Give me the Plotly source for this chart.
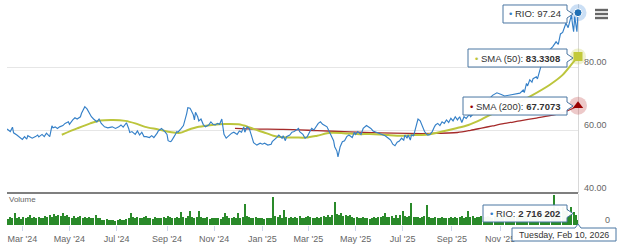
import pandas as pd
import plotly.graph_objects as go

# ---------------- data ----------------
start_date, end_date = "2024-02-12", "2026-02-10"

tick_dates = ["2024-03-01", "2024-05-01", "2024-07-01", "2024-09-03", "2024-11-01",
              "2025-01-02", "2025-03-03", "2025-05-01", "2025-07-01", "2025-09-02", "2025-11-03"]
tick_labels = ["Mar '24", "May '24", "Jul '24", "Sep '24", "Nov '24",
               "Jan '25", "Mar '25", "May '25", "Jul '25", "Sep '25", "Nov '25"]
price_grid = [60, 80, 100]
price_axis_labels = [40, 60, 80]

# trading-day offsets from start_date and RIO closing prices
price_day = [0, 3, 5, 6, 9, 12, 14, 16, 18, 19,
             23, 26, 28, 29, 32, 34, 36, 39, 41, 42,
             44, 46, 48, 51, 53, 56, 57, 60, 62, 64,
             67, 68, 70, 71, 73, 75, 77, 79, 82, 84,
             86, 89, 92, 96, 99, 102, 104, 106, 109, 111,
             112, 114, 117, 119, 121, 123, 125, 127, 130, 132,
             134, 137, 138, 141, 143, 144, 146, 147, 149, 150,
             153, 155, 156, 158, 159, 161, 162, 164, 165, 167,
             168, 170, 171, 172, 174, 175, 177, 179, 181, 184,
             186, 188, 190, 192, 194, 196, 197, 198, 200, 203,
             205, 207, 210, 212, 214, 216, 217, 219, 221, 223,
             225, 228, 231, 233, 235, 238, 241, 242, 245, 246,
             248, 251, 252, 254, 255, 258, 260, 262, 264, 266,
             267, 270, 272, 274, 276, 278, 280, 282, 284, 286,
             288, 290, 292, 294, 296, 298, 299, 301, 302, 303,
             304, 306, 308, 310, 312, 315, 317, 318, 320, 323,
             325, 328, 330, 332, 334, 337, 339, 342, 345, 348,
             350, 352, 354, 356, 358, 360, 362, 363, 365, 366,
             368, 369, 371, 372, 374, 375, 377, 378, 380, 381,
             383, 384, 386, 388, 390, 391, 393, 395, 397, 399,
             401, 403, 405, 407, 409, 411, 413, 415, 417, 419,
             422, 423, 428, 433, 439, 443, 447, 451, 454, 459,
             463, 468, 471, 472, 474, 475, 477, 479, 480, 483,
             484, 486, 488, 489, 492, 495, 498, 501, 503, 505,
             507, 510, 512, 514, 515, 516, 517, 518, 519, 520,
             521]
price_val = [60.3, 59.5, 60.9, 59.1, 58.4, 57.6, 57.0, 57.9, 57.1, 58.2,
             57.4, 57.9, 58.4, 57.8, 58.6, 57.9, 59.0, 57.9, 61.3, 60.7,
             61.0, 60.5, 61.0, 61.4, 62.1, 62.6, 61.8, 63.2, 63.9, 63.5,
             64.2, 65.3, 66.9, 67.4, 66.7, 65.3, 64.2, 63.5, 62.6, 63.5,
             62.1, 61.0, 60.7, 61.0, 60.5, 61.0, 61.6, 60.9, 62.3, 60.5,
             59.2, 59.5, 58.6, 59.7, 58.4, 59.3, 57.9, 57.9, 57.6, 58.2,
             57.6, 59.0, 59.7, 60.5, 60.0, 59.5, 58.6, 56.6, 56.3, 56.5,
             58.2, 59.5, 59.3, 60.0, 60.5, 61.4, 62.6, 65.3, 67.1, 66.9,
             66.3, 64.8, 63.2, 65.6, 64.2, 62.9, 63.5, 61.8, 61.0, 61.6,
             62.6, 61.8, 61.6, 62.1, 61.8, 63.5, 61.0, 58.6, 57.4, 58.4,
             59.0, 59.3, 58.6, 59.7, 59.3, 61.0, 59.3, 61.0, 60.5, 58.3,
             56.0, 55.2, 55.8, 55.5, 55.8, 55.2, 55.5, 56.3, 57.1, 57.6,
             58.4, 57.4, 58.2, 56.6, 57.9, 58.4, 59.3, 59.5, 60.0, 60.5,
             59.5, 58.6, 57.4, 57.9, 59.3, 60.5, 60.0, 61.0, 62.1, 62.6,
             61.8, 61.4, 61.0, 59.5, 57.9, 56.6, 54.7, 53.3, 51.5, 53.7,
             54.7, 56.3, 56.6, 57.9, 58.4, 57.6, 59.3, 58.6, 59.5, 58.6,
             60.5, 61.4, 61.0, 60.5, 59.7, 59.3, 59.0, 58.4, 58.2, 57.4,
             56.8, 55.5, 55.0, 56.1, 56.5, 57.4, 56.8, 58.4, 57.4, 58.4,
             56.8, 58.4, 58.2, 59.5, 62.1, 63.5, 62.9, 62.1, 60.5, 59.5,
             58.6, 58.4, 58.6, 59.5, 61.0, 61.6, 62.1, 61.4, 62.6, 62.1,
             63.2, 62.4, 63.7, 62.9, 64.2, 63.2, 64.2, 62.4, 64.2, 63.7,
             65.0, 64.2, 66.0, 67.5, 69.5, 71.0, 71.8, 71.3, 70.8, 71.1,
             71.3, 71.7, 72.7, 71.9, 74.8, 74.0, 75.9, 75.2, 76.3, 76.9,
             76.2, 79.0, 81.2, 80.5, 83.0, 85.4, 86.5, 88.0, 87.2, 90.5,
             91.0, 93.9, 92.5, 95.5, 96.5, 93.5, 91.2, 96.0, 94.0, 91.2,
             97.24]

sma50_day = [50, 64, 76, 85, 97, 108, 117, 126, 138, 150,
             158, 165, 175, 187, 199, 211, 220, 226, 234, 243,
             252, 264, 273, 283, 295, 307, 319, 331, 340, 348,
             360, 372, 384, 397, 409, 421, 433, 445, 459, 477,
             495, 507, 516, 521]
sma50_val = [58.5, 60.5, 62.1, 63.0, 63.2, 62.9, 62.1, 61.0, 60.2, 59.3,
             59.1, 60.0, 61.0, 61.6, 61.9, 61.8, 61.0, 60.2, 59.3, 58.2,
             57.7, 57.6, 57.6, 58.2, 59.1, 59.0, 58.7, 58.7, 58.6, 58.4,
             58.2, 58.4, 58.6, 59.5, 60.5, 61.6, 63.4, 65.5, 67.3, 70.6,
             74.3, 77.5, 81.2, 83.3308]

sma200_day = [208, 226, 252, 283, 313, 340, 366, 388, 411, 423,
              433, 443, 453, 468, 483, 498, 507, 514, 521]
sma200_val = [60.5, 60.3, 60.2, 59.8, 59.4, 59.1, 58.9, 58.9, 59.2, 59.9,
              60.6, 61.3, 62.0, 62.9, 63.8, 64.7, 65.5, 66.5, 67.7073]

# volume in millions of shares, every other trading day, ending on the last day
volume_m = [3.2, 4.1, 3.6, 6.0, 3.4, 3.9, 3.1,
            3.8, 3.5, 4.0, 5.0, 3.6, 3.9, 3.3, 4.2, 3.7, 3.5, 4.6, 3.8,
            4.8, 4.2, 5.6, 4.4, 5.2, 4.6, 6.0, 4.5, 5.0,
            4.0, 3.6, 4.4, 3.5, 3.8, 4.6, 3.4, 3.9, 3.6, 4.2, 3.3, 3.7, 4.8, 3.5, 3.6,
            2.6, 2.4, 2.8, 2.3, 2.5, 2.7, 2.2, 2.4, 2.9, 2.5, 2.6, 2.8,
            3.5, 6.0, 3.8, 3.4, 4.2, 3.6, 3.3, 3.9, 4.4, 3.5, 3.7, 3.2, 4.0, 3.6, 3.4,
            3.6, 3.9, 3.3, 4.5, 3.8, 3.5, 3.7, 4.2, 3.4, 6.5, 3.8, 3.6, 4.4, 6.8, 3.9,
            3.5, 4.1, 7.0, 4.0,
            3.6, 3.4, 3.9, 3.2, 3.5, 3.7, 3.3, 3.6, 3.1,
            3.8, 6.0, 4.5, 3.6, 3.4, 3.9, 3.5, 5.8, 3.6,
            4.0, 10.5, 4.4, 3.8, 3.6, 3.4, 4.2, 3.5,
            3.4, 3.7, 3.2, 3.5, 3.6, 3.3, 14.0,
            4.5, 3.9, 5.0, 3.7, 7.5, 3.8, 3.5, 4.1, 3.6, 3.9, 3.4, 4.3, 3.7, 3.5, 4.0,
            4.6, 3.8,
            3.7, 3.5, 4.0, 3.6, 3.8, 4.4, 3.9, 5.0, 4.2, 4.8, 11.5,
            5.5, 4.8, 6.0, 4.6, 5.2, 4.4, 4.9, 4.0,
            3.6, 3.8, 3.3, 3.5, 3.9, 3.4, 3.7, 3.2, 3.6, 3.8, 3.5,
            4.0, 3.8, 4.6, 6.0, 4.2, 3.9, 4.4, 3.7, 4.8, 3.6, 5.2, 7.0, 4.3, 3.9, 4.5,
            11.0, 4.2,
            3.8, 4.1, 3.6, 3.9, 4.4, 10.0,
            4.0, 3.7, 3.5, 3.8, 3.4, 3.6, 3.9, 3.3, 3.7, 3.5,
            3.8, 3.6, 4.2, 3.5, 3.9, 4.6, 3.7, 4.0, 7.0, 3.8, 4.3, 3.6, 4.1, 3.9, 4.5,
            4.2, 3.8, 4.6, 4.0, 3.7, 4.4, 5.0, 4.1, 3.9, 4.8, 4.3, 4.0, 5.2, 4.5, 4.1,
            4.9, 4.4, 5.0, 4.6, 5.4, 4.8, 5.1, 6.0, 5.0, 5.6, 4.7, 5.3, 6.2, 5.5, 5.8,
            6.4, 5.2, 15.0,
            6.5, 8.5, 6.0, 9.0, 7.2, 8.0, 5.5, 8.8, 6.4, 5.0, 2.716202]

# ---------------- geometry / style ----------------
W, H = 620, 250
ML, MR, MT, MB = 7, 42, 4, 25
PW, PH = W - ML - MR, H - MT - MB
PRICE_TOP, PRICE_BOT = 4, 193
VOL_TOP, VOL_BOT = 194, 225
PRICE_RANGE = [40, 100]
VOL_RANGE = [0, 15.5]


def fx(p):
    return (p - ML) / PW


def fy(p):
    return (H - MB - p) / PH


PPU = (PRICE_BOT - PRICE_TOP) / (PRICE_RANGE[1] - PRICE_RANGE[0])
VPU = (VOL_BOT - VOL_TOP) / (VOL_RANGE[1] - VOL_RANGE[0])

FONT = "Liberation Sans, Arial, sans-serif"
BLUE = "#3580c8"
OLIVE = "#bcc53c"
DRED = "#a52a2a"
GREEN = "#2a8a2a"
TIP_BORDER = "#4a76a2"
TIP_BG = "rgba(255,255,255,0.96)"
TEXT = "#333333"
AXIS_TEXT = "#666666"

days = [d.strftime("%Y-%m-%d") for d in pd.bdate_range(start_date, end_date)]
price_x = [days[k] for k in price_day]
sma50_x = [days[k] for k in sma50_day]
sma200_x = [days[k] for k in sma200_day]
vol_x = days[::-1][::2][::-1][-len(volume_m):]

fig = go.Figure()

fig.add_trace(go.Bar(x=vol_x, y=volume_m, xaxis="x", yaxis="y2", width=1.1,
                     marker=dict(color=GREEN, line=dict(width=0))))
fig.add_trace(go.Scatter(x=sma200_x, y=sma200_val, mode="lines", yaxis="y",
                         line=dict(color=DRED, width=1.3, shape="spline", smoothing=0.8)))
fig.add_trace(go.Scatter(x=sma50_x, y=sma50_val, mode="lines", yaxis="y",
                         line=dict(color=OLIVE, width=2, shape="spline", smoothing=0.8)))
fig.add_trace(go.Scatter(x=price_x, y=price_val, mode="lines", yaxis="y",
                         line=dict(color=BLUE, width=1.15)))

# end-point markers with halos
fig.add_trace(go.Scatter(x=[sma200_x[-1]], y=[sma200_val[-1]], mode="markers", cliponaxis=False,
                         marker=dict(size=18, color="rgba(190,60,60,0.28)", line=dict(width=0))))
fig.add_trace(go.Scatter(x=[sma200_x[-1]], y=[sma200_val[-1]], mode="markers", cliponaxis=False,
                         marker=dict(size=9, symbol="triangle-up", color="#990000", line=dict(width=0))))
fig.add_trace(go.Scatter(x=[sma50_x[-1]], y=[sma50_val[-1]], mode="markers", cliponaxis=False,
                         marker=dict(size=16, color="rgba(190,200,60,0.25)", line=dict(width=0))))
fig.add_trace(go.Scatter(x=[sma50_x[-1]], y=[sma50_val[-1]], mode="markers", cliponaxis=False,
                         marker=dict(size=9, symbol="square", color="#c2c93a", line=dict(width=0))))
fig.add_trace(go.Scatter(x=[price_x[-1]], y=[price_val[-1]], mode="markers", cliponaxis=False,
                         marker=dict(size=17, color="rgba(47,126,216,0.25)", line=dict(width=0))))
fig.add_trace(go.Scatter(x=[price_x[-1]], y=[price_val[-1]], mode="markers", cliponaxis=False,
                         marker=dict(size=8, color="#1f6fb5", line=dict(width=1, color="white"))))

shapes = []
annotations = []


def callout(x0, x1, tip, yc, half_px, notch_px, unit_px, yref):
    h = half_px / unit_px
    n = notch_px / unit_px
    path = (f"M{fx(x0)},{yc + h} L{fx(x1)},{yc + h} L{fx(x1)},{yc + n} L{fx(tip)},{yc} "
            f"L{fx(x1)},{yc - n} L{fx(x1)},{yc - h} L{fx(x0)},{yc - h} Z")
    shapes.append(dict(type="path", path=path, xref="paper", yref=yref, layer="above",
                       fillcolor=TIP_BG, line=dict(color=TIP_BORDER, width=1)))


def label(xc, yc, yref, text, size=9.5, color=TEXT, anchor="center"):
    annotations.append(dict(x=xc, y=yc, xref="paper", yref=yref, text=text, showarrow=False,
                            xanchor=anchor, yanchor="middle",
                            font=dict(family=FONT, size=size, color=color)))


# price tooltips
rio_y = price_val[-1] - 1.3 / PPU
callout(503, 567, 573, rio_y, 9, 4, PPU, "y")
label(fx(535), rio_y, "y", f"<span style='color:{BLUE}'>•</span> RIO: {price_val[-1]:.2f}")

s50_y = sma50_val[-1] - 1.5 / PPU
callout(468, 567, 573, s50_y, 9, 4, PPU, "y")
label(fx(517.5), s50_y, "y",
      f"<span style='color:{OLIVE}'>•</span> SMA (50): <b>{sma50_val[-1]:.4f}</b>")

s200_y = sma200_val[-1] - 0.3 / PPU
callout(463, 567, 573, s200_y, 9, 4, PPU, "y")
label(fx(515), s200_y, "y",
      f"<span style='color:#990000'>•</span> SMA (200): <b>{sma200_val[-1]:.4f}</b>")

# volume tooltip
vol_y = (VOL_BOT - 213.5) / VPU
callout(483, 567, 573, vol_y, 8.5, 4, VPU, "y2")
vol_txt = f"{round(volume_m[-1] * 1e6):,}".replace(",", " ")
label(fx(525), vol_y, "y2", f"<span style='color:{BLUE}'>•</span> RIO: <b>{vol_txt}</b>")

# date label below the axis
dpath = (f"M{fx(512)},{fy(228)} L{fx(575)},{fy(228)} L{fx(578)},{fy(224)} L{fx(581)},{fy(228)} "
         f"L{fx(616)},{fy(228)} L{fx(616)},{fy(241)} L{fx(512)},{fy(241)} Z")
shapes.append(dict(type="path", path=dpath, xref="paper", yref="paper", layer="above",
                   fillcolor="rgba(255,255,255,0.98)", line=dict(color=TIP_BORDER, width=1)))
label(fx(564), fy(234.5), "paper", pd.Timestamp(days[-1]).strftime("%A, %b %d, %Y"), size=8.9)

# pane separator
shapes.append(dict(type="line", xref="paper", yref="paper", x0=0, x1=1,
                   y0=fy(PRICE_BOT), y1=fy(PRICE_BOT), line=dict(color="#555555", width=1.4)))

# hamburger menu icon
for yy in (10, 14, 18):
    shapes.append(dict(type="line", xref="paper", yref="paper", x0=fx(595), x1=fx(608),
                       y0=fy(yy), y1=fy(yy), line=dict(color="#666666", width=2.4)))

# axis labels
for v in price_axis_labels:
    annotations.append(dict(x=1, y=v, xref="paper", yref="y", xanchor="left", yanchor="middle",
                            xshift=4, yshift=5, showarrow=False, text=f"{v:.2f}",
                            font=dict(family=FONT, size=9, color=AXIS_TEXT)))
annotations.append(dict(x=1, y=0, xref="paper", yref="y2", xanchor="left", yanchor="middle",
                        xshift=25, yshift=5, showarrow=False, text="0",
                        font=dict(family=FONT, size=9, color=AXIS_TEXT)))
label(0, fy(199.5), "paper", "Volume", size=8, color=AXIS_TEXT, anchor="left")

fig.update_layout(
    width=W, height=H,
    margin=dict(l=ML, r=MR, t=MT, b=MB),
    paper_bgcolor="white", plot_bgcolor="white",
    showlegend=False, hovermode=False,
    font=dict(family=FONT, size=9, color=AXIS_TEXT),
    xaxis=dict(type="category", categoryorder="array", categoryarray=days,
               range=[0, len(days) - 1], anchor="y2", domain=[0, 1],
               tickmode="array", tickvals=tick_dates, ticktext=tick_labels,
               ticks="outside", ticklen=5, tickcolor="#ccd6eb", tickwidth=1,
               tickfont=dict(family=FONT, size=9, color=AXIS_TEXT),
               showgrid=False, showline=False, zeroline=False),
    yaxis=dict(domain=[fy(PRICE_BOT), fy(PRICE_TOP)], range=PRICE_RANGE, anchor="x",
               side="right", tickmode="array", tickvals=price_grid, showticklabels=False,
               showgrid=True, gridcolor="#e6e6e6", gridwidth=1, zeroline=False,
               showline=True, linecolor="#d8d8d8", linewidth=1, ticks="",
               layer="below traces"),
    yaxis2=dict(domain=[fy(VOL_BOT), fy(VOL_TOP)], range=VOL_RANGE, anchor="x",
                side="right", showticklabels=False, showgrid=False, zeroline=False,
                showline=True, linecolor="#d8d8d8", linewidth=1, ticks="",
                layer="below traces"),
    shapes=shapes,
    annotations=annotations,
    bargap=0,
)

fig.write_html("out.html")
